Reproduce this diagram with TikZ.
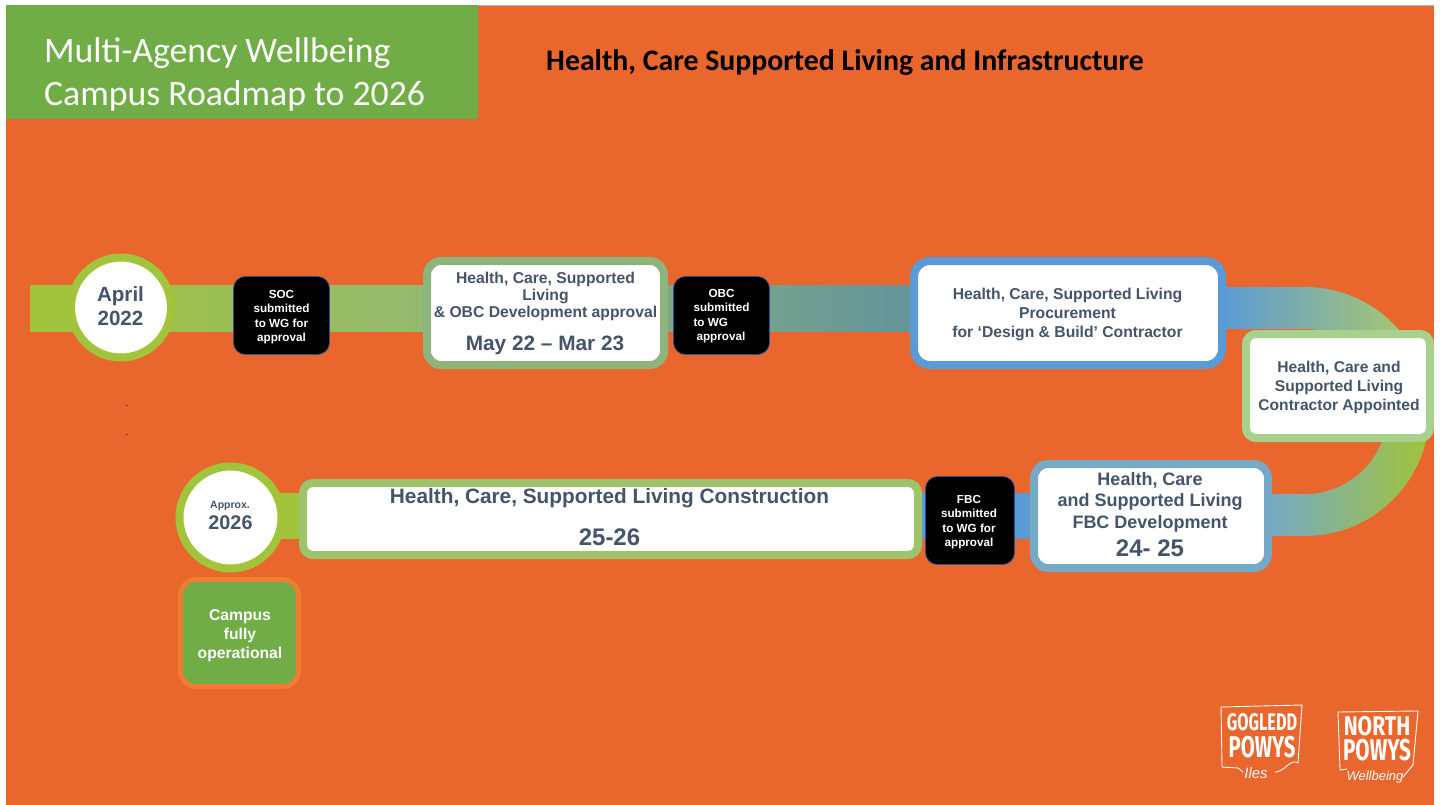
\documentclass[tikz,border=0pt]{standalone}
\usepackage{fontspec}
\setmainfont{Liberation Sans}
\newfontfamily\calfont{Carlito}
\newfontfamily\logofont{Fira Sans}
\definecolor{bgorange}{HTML}{E9662C}
\definecolor{titlegreen}{HTML}{70AD47}
\definecolor{slate}{HTML}{44546A}
\definecolor{limeg}{HTML}{A2C43A}
\definecolor{sagea}{HTML}{95BA70}
\definecolor{sageb}{HTML}{8DB47A}
\definecolor{sagec}{HTML}{9DC36D}
\definecolor{tealc}{HTML}{74A08E}
\definecolor{tealb}{HTML}{64949C}
\definecolor{blueb}{HTML}{5B9BD5}
\definecolor{softg}{HTML}{A9D18E}
\definecolor{arcend}{HTML}{B4CC63}
\definecolor{steel}{HTML}{75A9C4}
\definecolor{orangeb}{HTML}{ED7D31}
\definecolor{navyb}{HTML}{2F4F8F}
\tikzset{
  box/.style={draw, rounded corners=#1, fill=white, line width=8pt, inner sep=0pt},
  box/.default=12pt,
  lbl/.style={text=slate, font=\bfseries\fontsize{#1}{30}\selectfont, align=center, inner sep=0pt},
  blackbox/.style={draw=navyb, fill=black, rounded corners=12pt, line width=0.8pt, inner sep=0pt},
  blacktxt/.style={text=white, font=\fontsize{11.7}{14.3}\selectfont\bfseries, inner sep=0pt},
  ring/.style={circle, draw=limeg, fill=white, line width=8pt, inner sep=0pt},
  logotxt/.style={text=white, font=\logofont\fontsize{#1}{40}\selectfont\bfseries, inner sep=0pt},
  logoline/.style={draw=white, line width=0.9pt, line cap=round, line join=round}
}
\begin{document}
\begin{tikzpicture}[x=1pt,y=-1pt]
\useasboundingbox (0,0) rectangle (1442,805);
\fill[white] (0,0) rectangle (1442,805);
\fill[bgorange] (6,5) rectangle (1434,805);
\draw[black!30, line width=0.8pt] (6,5) -- (1434,5);
\fill[titlegreen] (6,5) rectangle (478,119);
\node[anchor=west, text=white, align=left, inner sep=0pt, font=\calfont\fontsize{35.7}{43}\selectfont] (title) at (44,74.5) {Multi-Agency Wellbeing\\Campus Roadmap to 2026};
\node[anchor=west, text=black, inner sep=0pt, font=\calfont\fontsize{29.8}{34}\selectfont\bfseries] (head) at (546,63) {Health, Care Supported Living and Infrastructure};
% upper band
\shade[left color=limeg, right color=sagea] (30,285) rectangle (425,331);
\shade[left color=sagea, right color=tealc] (425,285) rectangle (770,331);
\shade[left color=tealc, right color=tealb] (770,285) rectangle (915,331);
% curve
\shade[left color=blueb, right color=arcend]
  (1222,287) -- (1305,287) arc[start angle=-90,end angle=0,radius=124.5] -- (1387.5,411.5)
  arc[start angle=0,end angle=-90,radius=82.5] -- (1222,329) -- cycle;
\shade[left color=steel, right color=limeg]
  (1268,536) -- (1305,536) arc[start angle=90,end angle=0,radius=124.5] -- (1387.5,411.5)
  arc[start angle=0,end angle=90,radius=82.5] -- (1268,494) -- cycle;
% lower band
\fill[blueb] (915,493) rectangle (1035,539);
\fill[limeg] (278,493) rectangle (305,539);
% boxes
\node[ring, minimum size=100pt] (apr) at (121,307.5) {};
\node[lbl=20.6, font=\bfseries\fontsize{20.6}{23.5}\selectfont] (aprt) at (120.5,306) {April\\2022};
\node[blackbox, minimum width=96pt, minimum height=78pt] (soc) at (281.5,315.5) {};
\node[blacktxt, align=center] (soct) at (281.5,317) {SOC\\submitted\\to WG for\\approval};
\node[box=14pt, draw=sageb, minimum width=237pt, minimum height=104pt] (dev) at (545.5,313) {};
\node[lbl=15.7, font=\bfseries\fontsize{15.7}{17}\selectfont] (devt) at (545.5,296) {Health, Care, Supported\\Living\\\& OBC Development approval};
\node[lbl=20.8] (devd) at (545,345) {May 22 -- Mar 23};
\node[blackbox, minimum width=96pt, minimum height=78pt] (obc) at (721.5,315.5) {};
\node[blacktxt, align=left] (obct) at (721.5,316) {\hspace{15pt}OBC\\submitted\\to WG\\\hspace{3pt}approval};
\node[box=16pt, draw=blueb, minimum width=308pt, minimum height=104pt] (proc) at (1068,313) {};
\node[lbl=15.7, font=\bfseries\fontsize{15.7}{19}\selectfont] (proct) at (1067.5,314) {Health, Care, Supported Living\\Procurement\\for ‘Design \& Build’ Contractor};
\node[box=10pt, draw=softg, minimum width=184pt, minimum height=104pt] (appt) at (1338,386) {};
\node[lbl=15.6, font=\bfseries\fontsize{15.6}{19}\selectfont] (apptt) at (1339,387) {Health, Care and\\Supported Living\\Contractor Appointed};
\node[box=14pt, draw=steel, minimum width=234pt, minimum height=104pt] (fbc) at (1151,516) {};
\node[lbl=18, font=\bfseries\fontsize{18}{21.5}\selectfont] (fbct) at (1150,502) {Health, Care\\and Supported Living\\FBC Development};
\node[lbl=24] (fbcd) at (1150,548) {24- 25};
\node[blackbox, minimum width=89pt, minimum height=88pt] (fbcs) at (970,520.5) {};
\node[blacktxt, align=center] (fbcst) at (969,522) {FBC\\submitted\\to WG for\\approval};
\node[box=10pt, draw=sagec, minimum width=615pt, minimum height=72pt] (cons) at (610.5,519) {};
\node[lbl=20.8] (const) at (609.5,498) {Health, Care, Supported Living Construction};
\node[lbl=24] (consd) at (609.5,537) {25-26};
\node[ring, minimum size=102pt] (end) at (230.5,517.5) {};
\node[lbl=10.5] (endt) at (230,506) {Approx.};
\node[lbl=19.8] (endd) at (230.5,523) {2026};
\node[draw=orangeb, fill=titlegreen, rounded corners=16pt, line width=5pt, minimum width=118pt, minimum height=107pt, inner sep=0pt] (camp) at (239.5,633) {};
\node[text=white, align=center, inner sep=0pt, font=\bfseries\fontsize{15.7}{19}\selectfont] (campt) at (240,636) {Campus\\fully\\operational};
% specks
\fill[black!70] (126,405) rectangle (128,406);
\fill[black!70] (126,434) rectangle (128,435);
% logos
\draw[logoline] (1221,707) -- (1302,705) -- (1298,763) .. controls (1290,758) and (1285,772) .. (1275,772);
\draw[logoline] (1221,707) -- (1222,767) -- (1238,768) -- (1243,772);
\node[logotxt=24] (lg1) at (1262,722) {\scalebox{0.68}[1]{GOGLEDD}};
\node[logotxt=30] (lg2) at (1262,747) {\scalebox{0.68}[1]{POWYS}};
\node[text=white, font=\itshape\fontsize{15}{15}\selectfont, inner sep=0pt] (lg3) at (1256,773) {Iles};
\draw[logoline] (1338,712) -- (1418,711) -- (1413,765) -- (1403,777);
\draw[logoline] (1338,712) -- (1340,770) -- (1347,769);
\node[logotxt=27] (lg4) at (1377,726) {\scalebox{0.78}[1]{NORTH}};
\node[logotxt=30] (lg5) at (1377,750) {\scalebox{0.69}[1]{POWYS}};
\node[text=white, font=\itshape\fontsize{13}{13}\selectfont, inner sep=0pt] (lg6) at (1375,777) {Wellbeing};
\end{tikzpicture}
\end{document}
